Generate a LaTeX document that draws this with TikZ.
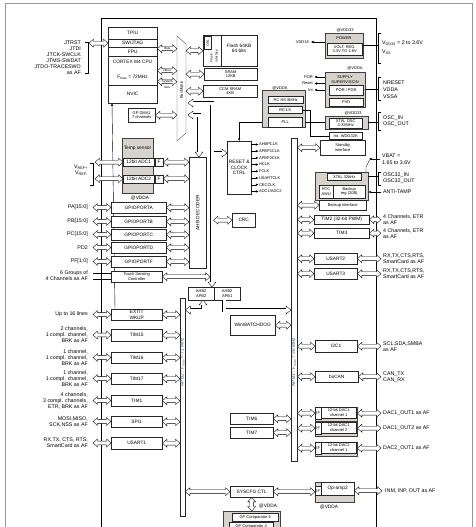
\documentclass[tikz,border=0pt]{standalone}
\usepackage{fontspec}
\setmainfont{Liberation Sans}
\usetikzlibrary{arrows.meta, calc, backgrounds}

\definecolor{GrpGray}{RGB}{214,211,204}
\definecolor{FrameGray}{RGB}{150,150,150}
\definecolor{BusText}{RGB}{80,90,130}

\newcommand{\fs}{\fontsize{4.8}{5.4}\selectfont}
\newcommand{\fl}{\fontsize{5.3}{6}\selectfont}
\newcommand{\ft}{\fontsize{4}{4.5}\selectfont}
\newcommand{\fx}{\fontsize{3.3}{3.6}\selectfont}

\tikzset{
  box/.style={draw=black!85, fill=white, line width=0.4pt, inner sep=0pt,
    anchor=north west, align=center, font=\fs},
  grp/.style={draw=black!75, fill=GrpGray, line width=0.4pt, inner sep=0pt,
    anchor=north west},
  lbl/.style={font=\fl, inner sep=0pt, align=right, anchor=east},
  rlbl/.style={font=\fl, inner sep=0pt, align=left, anchor=west},
  fat/.style={draw=black, fill=white, line width=0.35pt},
  bus/.style={draw=black, double=white, double distance=3pt, line width=0.4pt},
  sig/.style={-{Latex[length=2.5pt, width=2.5pt]}, line width=0.4pt},
  pics/tip/.style={code={
    \filldraw[fill=white, line width=0.35pt] (-5pt,1.9pt) -- (-5pt,4pt) -- (0,0) -- (-5pt,-4pt) -- (-5pt,-1.9pt);}}
}

\newcommand{\hdar}[2]{%
  \draw[fat] let \p1=#1, \p2=#2 in
    (\x1,\y1) -- (\x1+4.5pt,\y1+4pt) -- (\x1+4.5pt,\y1+1.9pt)
    -- (\x2-4.5pt,\y1+1.9pt) -- (\x2-4.5pt,\y1+4pt) -- (\x2,\y1)
    -- (\x2-4.5pt,\y1-4pt) -- (\x2-4.5pt,\y1-1.9pt)
    -- (\x1+4.5pt,\y1-1.9pt) -- (\x1+4.5pt,\y1-4pt) -- cycle;}
\newcommand{\vdar}[2]{%
  \draw[fat] let \p1=#1, \p2=#2 in
    (\x1,\y1) -- (\x1+4pt,\y1-4.5pt) -- (\x1+1.9pt,\y1-4.5pt)
    -- (\x1+1.9pt,\y2+4.5pt) -- (\x1+4pt,\y2+4.5pt) -- (\x1,\y2)
    -- (\x1-4pt,\y2+4.5pt) -- (\x1-1.9pt,\y2+4.5pt)
    -- (\x1-1.9pt,\y1-4.5pt) -- (\x1-4pt,\y1-4.5pt) -- cycle;}

\begin{document}
\begin{tikzpicture}[x=1pt, y=-1pt]
\useasboundingbox (0,0) rectangle (476,527);
\clip (0,0) rectangle (476,527);

% frames
\draw[FrameGray, line width=0.8pt] (5,3) rectangle (472,545);
\draw[line width=0.6pt] (101,18) rectangle (376,545);

% Cortex core
\node[box, minimum width=49pt, minimum height=12pt] (tpiu) at (108,27) {TPIU};
\node[box, minimum width=49pt, minimum height=8pt] (swj) at (108,39) {SW/JTAG};
\node[box, minimum width=49pt, minimum height=9pt] (fpu) at (108,47) {FPU};
\node[box, minimum width=49pt, minimum height=29pt] (cpu) at (108,56) {};
\node[font=\fs] (cpuname) at (132.5,62) {CORTEX M4 CPU};
\node[font=\fs] (fmax) at (132.5,77) {F\textsubscript{max} = 72MHz};
\node[box, minimum width=49pt, minimum height=18pt] (nvic) at (108,85) {NVIC};

\node[lbl] (jtag) at (81,57.5) {JTRST\\JTDI\\JTCK-SWCLK\\JTMS-SWDAT\\JTDO-TRACESWO\\as AF};
\draw (85,42) -- (88,42) -- (88,73) -- (85,73);
\coordinate (jtagbr) at (89,0);
\hdar{(jtagbr |- swj.west)}{(swj.west)}

% bus matrix
\draw[draw=black!70, fill=white] (177,36) -- (186,44) -- (186,133) -- (177,141) -- cycle;
\node[font=\ft, rotate=90] (bmtx) at (181.5,90) {BusMatrix};
\coordinate (bmL) at (177,0);
\coordinate (bmR) at (186,0);

\coordinate (ibus) at ([yshift=3pt]fpu.east);
\coordinate (dbus) at (cpu.east);
\coordinate (sbus) at ([yshift=-11pt]cpu.east);
\hdar{(ibus)}{(ibus -| bmL)}
\hdar{(dbus)}{(dbus -| bmL)}
\hdar{(sbus)}{(sbus -| bmL)}
\node[font=\fx] (ibusl) at ($(ibus)!0.5!(ibus -| bmL)$) {Ibus};
\node[font=\fx] (dbusl) at ($(dbus)!0.5!(dbus -| bmL)$) {Dbus};
\node[font=\fx] (sbusl) at ($(sbus)!0.5!(sbus -| bmL)$) {System};
\node[font=\fx] (sbusl2) at ($(sbus)!0.5!(sbus -| bmL) + (0,6)$) {bus};

% memories
\node[box, minimum width=54pt, minimum height=31pt] (flash) at (203,35) {};
\draw[black!85] (221,35) -- (221,66);
\node[box, minimum width=7pt, minimum height=13pt] (obl) at (204,36) {};
\node[font=\fx, rotate=90] (obltxt) at (obl.center) {OBL};
\node[font=\fx, rotate=90] (flif1) at (211.5,58) {Flash};
\node[font=\fx, rotate=90] (flif2) at (216.5,56) {interface};
\node[font=\fs, align=center] (flashtxt) at (239,48) {Flash 64KB\\64 bits};
\node[box, minimum width=53pt, minimum height=12pt, font=\ft] (sram) at (204,68) {SRAM\\12KB};
\node[box, minimum width=54pt, minimum height=12pt, font=\ft] (ccm) at (203,85) {CCM SRAM\\4KB};
\hdar{(bmR |- flash.west)}{(flash.west)}
\hdar{(bmR |- sram.west)}{(sram.west)}
\hdar{(bmR |- ccm.west)}{(ccm.west)}

% DMA
\node[box, minimum width=27pt, minimum height=14pt, font=\ft] (dma) at (128,108) {GP DMA1\\7 channels};
\hdar{(dma.east)}{(dma.east -| bmL)}

% AHB decoder and buses
\node[box, minimum width=17pt, minimum height=111pt] (dec) at (189,157) {};
\node[font=\fs, rotate=90] (dectxt) at (dec.center) {AHB DECODER};
\node[box, minimum width=5pt, minimum height=218pt] (apb2) at (180,298) {};
\node[font=\fs, rotate=90, text=BusText] (apb2txt) at (182.5,362) {APB2 : F\textsubscript{max} = 72 MHz};
\node[box, minimum width=6pt, minimum height=323pt] (apb1) at (291,138) {};
\node[font=\fs, rotate=90, text=BusText] (apb1txt) at (294,362) {APB1 : F\textsubscript{max} = 36 MHz};
\node[box, minimum width=26pt, minimum height=13pt, font=\ft] (br2) at (188,287) {AHB2\\APB2};
\node[box, minimum width=26pt, minimum height=13pt, font=\ft] (br1) at (214,287) {AHB2\\APB1};

\coordinate (bm1) at (188,103);
\coordinate (ahbc) at (212,103);
\coordinate (bm2) at (188,115);
\coordinate (decc) at (199,115);
\coordinate (ahbL) at (210.1,0);
\coordinate (ahbR) at (213.5,0);
\draw[bus, shorten <=5pt, shorten >=5pt] (bm1) -- (ahbc) -- (ahbc |- br2.north);
\pic[rotate=180] at (bm1) {tip};
\pic[rotate=-90] at (ahbc |- br2.north) {tip};
\draw[bus, shorten <=5pt, shorten >=5pt] (bm2) -- (decc) -- (decc |- dec.north);
\pic[rotate=180] at (bm2) {tip};
\pic[rotate=-90] at (decc |- dec.north) {tip};

\coordinate (b2a) at (203,300);
\coordinate (b2b) at (203,310);
\draw[bus, shorten <=5pt, shorten >=5pt] (b2a) -- (b2b) -- (b2b -| apb2.east);
\pic[rotate=90] at (b2a) {tip};
\pic[rotate=180] at (b2b -| apb2.east) {tip};
\coordinate (b1a) at (224,300);
\coordinate (b1b) at (224,310);
\draw[bus, shorten >=5pt] (b1a) -- (b1b) -- (b1b -| apb1.west);
\pic at (b1b -| apb1.west) {tip};

% ADC
\node[grp, minimum width=31pt, minimum height=55pt] (tsgrp) at (122,138) {};
\node[font=\fs] (tsens) at (137.5,148) {Temp sensor};
\node[box, minimum width=31pt, minimum height=8pt] (adc1) at (123,158) {12bit ADC1};
\node[box, minimum width=8pt, minimum height=8pt] (adc1if) at (155,158) {F};
\node[box, minimum width=31pt, minimum height=8pt] (adc2) at (123,174.5) {12bit ADC2};
\node[box, minimum width=8pt, minimum height=8pt] (adc2if) at (155,174.5) {F};
\node[font=\fs] (adcvdda) at (140,198) {@VDDA};
\node[lbl] (vref) at (88,170.5) {V\textsubscript{REF+}\\V\textsubscript{REF-}};
\draw (90,163) -- (93,163) -- (93,185) -- (90,185);
\coordinate (vrefbr) at (95,0);
\hdar{(vrefbr |- adc1.west)}{(adc1.west)}
\hdar{(vrefbr |- adc2.west)}{(adc2.west)}
\hdar{(adc1if.east)}{(adc1if.east -| dec.west)}
\hdar{(adc2if.east)}{(adc2if.east -| dec.west)}

% GPIO ports
\foreach \nm/\yy/\pin/\port in {gpa/202/{PA[15:0]}/A, gpb/216/{PB[15:0]}/B,
    gpc/229/{PC[15:0]}/C, gpd/242/PD2/D, gpf/256/{PF[1:0]}/F}{
  \node[box, minimum width=55pt, minimum height=11pt] (\nm) at (111,\yy) {GPIOPORT\port};
  \node[lbl] (\nm-l) at (88,\yy+5.5) {\pin};
  \hdar{([xshift=5pt]\nm-l.east)}{(\nm.west)}
  \hdar{(\nm.east)}{(\nm.east -| dec.west)}
}

% touch sensing
\node[box, minimum width=51pt, minimum height=11pt, font=\ft] (tsc) at (111,271) {Touch Sensing\\Controller};
\node[lbl] (tscl) at (88,276) {6 Groups of\\4 Channels as AF};
\draw (93,273) -- (tsc.west |- 0,273);
\draw (93,279) -- (tsc.west |- 0,279);
\hdar{(tsc.east)}{(tsc.east -| ahbL)}

% APB2 peripherals
\foreach \nm/\yy/\hh/\txt/\lab in {
    exti/309/11/{EXTIT\\WKUP}/{Up to 16 lines},
    tim15/329/12/TIM15/{2 channels,\\1 compl. channel,\\BRK as AF},
    tim16/352/11/TIM16/{1 channel,\\1 compl. channel,\\BRK as AF},
    tim17/373/11/TIM17/{1 channel,\\1 compl. channel,\\BRK as AF},
    tim1/395/11/TIM1/{4 channels,\\3 compl. channels,\\ETR, BRK as AF},
    spi1/416/11/SPI1/{MOSI,MISO,\\SCK,NSS as AF},
    usart1/437/12/USART1/{RX,TX, CTS, RTS,\\SmartCard as AF}}{
  \node[box, minimum width=51pt, minimum height=\hh pt] (\nm) at (111,\yy) {\txt};
  \node[lbl] (\nm-l) at (88,\yy+\hh/2) {\lab};
  \hdar{([xshift=5pt]\nm-l.east)}{(\nm.west)}
  \hdar{(\nm.east)}{(\nm.east -| apb2.west)}
}

\begin{scope}[on background layer]
  \draw[sig] ([xshift=4pt]exti.north west) -- ([xshift=4pt]nvic.south west);
\end{scope}

% reset and clock
\node[box, minimum width=24pt, minimum height=53pt] (rcc) at (227,141) {RESET \&\\CLOCK\\CTRL};
\foreach \lab [count=\i] in {AHBPCLK, APBP1CLK, APBP2CLK, HCLK, FCLK, USARTCLK, CECCLK, {ADC1/ADC2}}{
  \draw[sig] ([yshift={-3.5pt-6.7pt*(\i-1)}]rcc.north east) -- ++(7,0)
    node[right, font=\ft, inner sep=0.5pt] (clk\i) {\lab};
}
\coordinate (rccin) at (rcc.west |- 0,153);
\draw[bus, shorten >=5pt] (ahbR |- rccin) -- (rccin);
\pic at (rccin) {tip};
\node[box, minimum width=23pt, minimum height=14pt] (crc) at (232,213) {CRC};
\hdar{(ahbR |- crc.west)}{(crc.west)}

\node[font=\ft] (rcvdda) at (280,88) {@VDDA};
\node[grp, minimum width=43pt, minimum height=37pt] (rcgrp) at (262,90) {};
\node[box, minimum width=35pt, minimum height=7pt, font=\ft] (rchs) at (268,96) {RC HS 8MHz};
\node[box, minimum width=34pt, minimum height=7pt, font=\ft] (rcls) at (268,106) {RC LS};
\node[box, minimum width=34pt, minimum height=10pt, font=\ft] (pll) at (268,117) {PLL};
\draw[sig] (rcgrp.west |- pll.west) -| (rcc.north);

% APB1 peripherals
\node[box, minimum width=45pt, minimum height=20pt] (wwdg) at (230,315) {WinWATCHDOG};
\hdar{(wwdg.east)}{(wwdg.east -| apb1.west)}
\node[box, minimum width=43pt, minimum height=11pt] (tim6) at (230,413) {TIM6};
\node[box, minimum width=43pt, minimum height=11pt] (tim7) at (230,427) {TIM7};
\hdar{(tim6.east)}{(tim6.east -| apb1.west)}
\hdar{(tim7.east)}{(tim7.east -| apb1.west)}

% power
\node[font=\ft] (pwrvdd) at (345,30) {@VDD33};
\node[grp, minimum width=38pt, minimum height=25pt] (power) at (325,33) {};
\node[font=\ft] (pwrtxt) at (344,38) {POWER};
\node[box, minimum width=35pt, minimum height=12pt, font=\ft] (vreg) at (327,43) {VOLT. REG.\\3.3V TO 1.8V};
\node[lbl, font=\ft] (vdd18) at (309,42) {VDD18};
\draw[sig] (power.west |- vdd18.east) -- ([xshift=2pt]vdd18.east);
\node[rlbl] (vddl) at (382,47.5) {V\textsubscript{DD33} = 2 to 3.6V\\[2.5pt]V\textsubscript{SS}};
\draw (381,33) -- (378,33) -- (378,63) -- (381,63);
\draw (378,45) -- (power.east |- 0,45);

% supply supervision
\node[font=\ft] (supvdd) at (355,68) {@VDDA};
\node[grp, minimum width=40pt, minimum height=35pt] (sup) at (325,72) {};
\node[font=\ft, align=center] (suptxt) at (345,79.5) {SUPPLY\\SUPERVISION};
\node[box, minimum width=34pt, minimum height=10pt, font=\ft] (por) at (329,85) {POR / PDR};
\node[box, minimum width=34pt, minimum height=8pt, font=\ft] (pvd) at (329,98) {PVD};
\foreach \nm/\yy/\lab in {porl/77/POR, rstl/83.5/Reset, intl/90/Int}{
  \node[lbl, font=\ft] (\nm) at (313,\yy) {\lab};
  \draw[sig] (sup.west |- \nm.east) -- ([xshift=1.5pt]\nm.east);
}
\node[rlbl, font=\fontsize{5.3}{7.2}\selectfont] (nrstl) at (383,89.5) {NRESET\\VDDA\\VSSA};
\draw (381,77) -- (378,77) -- (378,100) -- (381,100);
\draw (378,89) -- (sup.east |- 0,89);

% oscillators and standby
\node[font=\ft] (xvdd) at (353,113) {@VDD33};
\node[grp, minimum width=43pt, minimum height=13pt] (xgrp) at (325,116) {};
\node[box, minimum width=33pt, minimum height=10pt, font=\ft] (xtal) at (329,118) {XTAL OSC\\4-32MHz};
\node[box, minimum width=33pt, minimum height=7pt, font=\ft] (iwdg) at (329,132) {Int. WDG32K};
\node[box, minimum width=45pt, minimum height=15pt, font=\ft] (stby) at (320,140) {Standby\\interface};
\hdar{(stby.west -| apb1.east)}{(stby.west)}
\draw (rcgrp.east |- pll.east) -- (xgrp.west |- pll.east);
\draw (rcls.east) -- ++(8,0) |- (iwdg.west);
\node[rlbl] (oscl) at (383,121.5) {OSC\_IN\\OSC\_OUT};
\draw (381,112) -- (378,112) -- (378,130) -- (381,130);
\draw (378,122) -- (xgrp.east |- 0,122);

% RTC domain
\node[grp, minimum width=53pt, minimum height=28pt] (rtcgrp) at (315,172) {};
\node[box, minimum width=34pt, minimum height=7pt, font=\ft] (x32) at (327,173) {XTAL 32kHz};
\node[box, minimum width=14pt, minimum height=13pt, font=\ft] (rtc) at (319,185) {RTC\\AWU};
\node[box, minimum width=32pt, minimum height=13pt, font=\ft] (bkreg) at (333,185) {Backup\\reg (20B)};
\node[box, minimum width=47pt, minimum height=10pt, font=\ft] (bkif) at (319,200) {Backup interface};
\hdar{(bkif.west -| apb1.east)}{(bkif.west)}
\node[rlbl] (vbatl) at (382,159) {VBAT =\\[1pt]1.65 to 3.6V};
\draw[sig] (380,159) -- (369,159);
\draw (rtcgrp.north -| 366,0) -- (366,167) -- (369.5,160);
\node[rlbl] (osc32l) at (383,178) {OSC32\_IN\\OSC32\_OUT};
\draw (381,172) -- (378,172) -- (378,185) -- (381,185);
\draw (378,176) -- (rtcgrp.east |- 0,176);
\node[rlbl] (tampl) at (383,192) {ANTI-TAMP};
\draw[sig] (381,192) -- (rtcgrp.east |- 0,192);

% timers and communication
\node[box, minimum width=55pt, minimum height=9pt] (tim2) at (314,215) {TIM2 (32-bit PWM)};
\node[box, minimum width=55pt, minimum height=10pt] (tim3) at (314,228) {TIM3};
\foreach \nm in {tim2, tim3}{
  \hdar{(\nm.west -| apb1.east)}{(\nm.west)}
  \node[rlbl] (\nm-l) at (383,0 |- \nm.east) {4 Channels, ETR\\as AF};
  \hdar{(\nm.east)}{([xshift=-2pt]\nm-l.west)}
}
\node[box, minimum width=43pt, minimum height=11pt] (usart2) at (314,253) {USART2};
\node[box, minimum width=43pt, minimum height=11pt] (usart3) at (314,268) {USART3};
\node[box, minimum width=42pt, minimum height=12pt] (i2c1) at (315,340) {I2C1};
\node[box, minimum width=43pt, minimum height=11pt] (bxcan) at (315,371) {bxCAN};
\foreach \nm/\lab in {usart2/{RX,TX,CTS,RTS,\\SmartCard as AF}, usart3/{RX,TX,CTS,RTS,\\SmartCard as AF},
    i2c1/{SCL,SDA,SMBA\\as AF}, bxcan/{CAN\_TX\\CAN\_RX}}{
  \hdar{(\nm.west -| apb1.east)}{(\nm.west)}
  \node[rlbl] (\nm-l) at (383,0 |- \nm.east) {\lab};
  \hdar{(\nm.east)}{([xshift=-2pt]\nm-l.west)}
}

% DACs
\foreach \nm/\yy/\txt/\lab in {dac1/407/{12-bit DAC1\\channel 1}/{DAC1\_OUT1 as AF},
    dac2/422/{12-bit DAC1\\channel 2}/{DAC1\_OUT2 as AF},
    dac3/442/{12-bit DAC2\\channel 1}/{DAC2\_OUT1 as AF}}{
  \node[grp, minimum width=42pt, minimum height=14pt] (\nm-g) at (315,\yy) {};
  \node[box, minimum width=6pt, minimum height=12pt, font=\ft] (\nm-if) at (315,\yy) {IF};
  \node[box, minimum width=35pt, minimum height=11pt, font=\ft] (\nm) at (321,\yy) {\txt};
  \hdar{(\nm-if.west -| apb1.east)}{(\nm-if.west)}
  \node[rlbl] (\nm-l) at (383,0 |- \nm-if.east) {\lab};
  \hdar{(\nm-g.east |- \nm-if.east)}{([xshift=-2pt]\nm-l.west)}
}

% system configuration, op-amp, comparators
\node[grp, minimum width=39pt, minimum height=20pt] (opgrp) at (315,482) {};
\node[box, minimum width=33pt, minimum height=13pt] (opamp) at (321,482) {Op-amp2};
\node[box, minimum width=6pt, minimum height=9pt, font=\ft] (opif) at (315,486) {IF};
\node[font=\fs] (opvdda) at (329,507) {@VDDA};
\node[rlbl] (opl) at (385,490.5) {INM, INP, OUT as AF};
\hdar{(opgrp.east |- opif.east)}{([xshift=-3pt]opl.west)}

\node[box, minimum width=43pt, minimum height=11pt] (syscfg) at (230,486) {SYSCFG CTL};
\hdar{(syscfg.west -| apb2.east)}{(syscfg.west)}
\hdar{(syscfg.east)}{(opif.west)}
\node[grp, minimum width=57pt, minimum height=30pt] (comp) at (223,511) {};
\node[box, minimum width=46pt, minimum height=8pt, font=\ft] (comp6) at (232,513) {GP Comparator 6};
\node[box, minimum width=44pt, minimum height=8pt, font=\ft] (comp4) at (229,522) {GP Comparator 4};
\vdar{(syscfg.south)}{(syscfg.south |- comp.north)}
\node[font=\fs] (cmpvdda) at (268,506) {@VDDA};
\end{tikzpicture}
\end{document}
